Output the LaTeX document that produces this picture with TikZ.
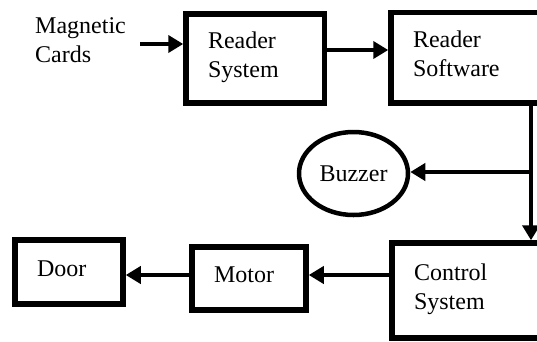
\documentclass[tikz,border=0pt]{standalone}
\usepackage{fontspec}
\setmainfont{Liberation Serif}
\usetikzlibrary{arrows.meta,shapes.geometric}
\begin{document}
\begin{tikzpicture}[x=1pt,y=-1pt,
  lbl/.style={inner sep=0pt, align=left, text height=15pt, text depth=7pt, font=\fontsize{24}{29}\selectfont},
  two/.style={text depth=36pt},
  box/.style={lbl, draw, line width=5.5pt, rectangle},
  oval/.style={draw, ellipse, line width=4.5pt, inner sep=0pt, font=\fontsize{24}{29}\selectfont},
  conn/.style={line width=4.5pt, -{Triangle[length=15pt,width=17pt]}},
]
\useasboundingbox (0,0) rectangle (537,341);
\node[lbl, two, anchor=west, text width=100pt] (mag) at (35,43.5) {Magnetic\\Cards};
\node[box, two, minimum width=138.5pt, minimum height=89pt, text width=94.5pt] (rsys) at (255.25,58.5) {Reader\\System};
\node[box, two, minimum width=157pt, minimum height=90.5pt, text width=113pt] (rsw) at (469.5,57.75) {Reader\\Software};
\node[box, two, minimum width=156pt, minimum height=95pt, text width=112pt] (ctrl) at (470,290.5) {Control\\System};
\node[box, minimum width=114pt, minimum height=63pt, text width=70pt] (motor) at (249,278.5) {Motor};
\node[box, minimum width=108pt, minimum height=64pt, text width=64pt] (door) at (69,272) {Door};
\node[oval, minimum width=109pt, minimum height=83pt] (buzz) at (353.5,173.5) {Buzzer};
\coordinate (mc) at (140,44);
\coordinate (a1) at (0,50);
\coordinate (a2) at (0,275);
\coordinate (j) at (531,172);
\draw[conn] (mc) -- (rsys.west |- mc);
\draw[conn] (rsys.east |- a1) -- (rsw.west |- a1);
\draw[conn] (rsw.south -| j) -- (ctrl.north -| j);
\draw[conn] (j) -- (buzz.east |- j);
\draw[conn] (ctrl.west |- a2) -- (motor.east |- a2);
\draw[conn] (motor.west |- a2) -- (door.east |- a2);
\end{tikzpicture}
\end{document}
